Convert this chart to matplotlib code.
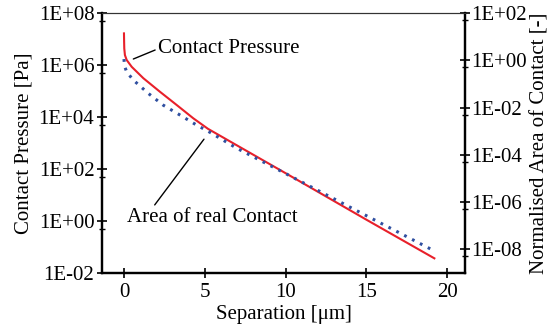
import numpy as np
import matplotlib
matplotlib.use("Agg")
import matplotlib.pyplot as plt
from matplotlib.ticker import FixedLocator, NullFormatter

plt.rcParams['font.family'] = ['Liberation Serif', 'DejaVu Serif']

# contact pressure (left axis) vs separation
sep_p = [0.0, 0.01, 0.02, 0.06, 0.17, 0.48, 1.2, 2.23, 3.26, 4.29, 5.2, 10.0, 15.0, 19.26]
pressure = [1.8e7, 7.9e6, 4.3e6, 2.4e6, 1.55e6, 8.5e5, 3.1e5, 9.3e4, 2.9e4,
            8.9e3, 3.5e3, 69, 1.12, 0.035]

# normalised real contact area (right axis) vs separation
sep_a = [0.0, 0.04, 0.17, 0.58, 1.5, 2.43, 3.47, 4.5, 5.2, 6.98, 10.17, 14.3, 19.1]
area = [1.12, 0.56, 0.32, 0.145, 0.04, 0.0126, 4.8e-3, 1.8e-3, 1e-3,
        1.9e-4, 1.4e-5, 4.7e-7, 9.3e-9]

x_ticks = [0, 5, 10, 15, 20]
left_ticks = [1e-2, 1e0, 1e2, 1e4, 1e6, 1e8]
left_labels = ['1E-02', '1E+00', '1E+02', '1E+04', '1E+06', '1E+08']
right_ticks = [1e-8, 1e-6, 1e-4, 1e-2, 1e0, 1e2]
right_labels = ['1E-08', '1E-06', '1E-04', '1E-02', '1E+00', '1E+02']

fs = 15
fig = plt.figure(figsize=(5.53, 3.28), dpi=100)
ax = fig.add_axes([0.1844, 0.1677, 0.6565, 0.7927])
ax2 = ax.twinx()

ax.plot(sep_p, pressure, color='#e8202a', lw=1.5, solid_capstyle='butt')
ax2.plot(sep_a, area, color='#2f4fa0', lw=2.2, linestyle=(0, (0.9, 2.0)))

ax.set_yscale('log')
ax2.set_yscale('log')
ax.set_xlim(-1.36, 21.1)
ax.set_ylim(1e-2, 1e8)
ax2.set_ylim(1e-9, 1e2)

ax.xaxis.set_major_locator(FixedLocator(x_ticks))
ax.set_xticklabels([str(t) for t in x_ticks], fontsize=fs)
ax.yaxis.set_major_locator(FixedLocator(left_ticks))
ax.set_yticklabels(left_labels, fontsize=fs)
ax2.yaxis.set_major_locator(FixedLocator(right_ticks))
ax2.set_yticklabels(right_labels, fontsize=fs)

# small ticks just below each major decade mark
ax.yaxis.set_minor_locator(FixedLocator([t * 0.5 for t in left_ticks]))
ax.yaxis.set_minor_formatter(NullFormatter())
ax2.yaxis.set_minor_locator(FixedLocator([t * 0.5 for t in right_ticks]))
ax2.yaxis.set_minor_formatter(NullFormatter())

for a in (ax, ax2):
    for s in a.spines.values():
        s.set_linewidth(1.6)
    a.spines['top'].set_linewidth(0.8)
    a.spines['top'].set_color('#333333')
ax.tick_params(axis='x', direction='inout', length=7, width=1.2, pad=4, top=False)
ax.tick_params(axis='y', which='major', direction='inout', length=7, width=1.2, pad=2, right=False)
ax.tick_params(axis='y', which='minor', direction='inout', length=5, width=1.0)
ax2.tick_params(axis='y', which='major', direction='inout', length=7, width=1.2, pad=1)
ax2.tick_params(axis='y', which='minor', direction='inout', length=5, width=1.0)

ax.set_xlabel('Separation [μm]', fontsize=fs)
ax.xaxis.set_label_coords(0.5, -0.125)
ax.set_ylabel('Contact Pressure [Pa]', fontsize=fs)
ax.yaxis.set_label_coords(-0.215, 0.5)
ax2.set_ylabel('Normalised Area of Contact [-]', fontsize=fs, rotation=90)
ax2.yaxis.set_label_coords(1.207, 0.5)
ax2.yaxis.label.set_va('center')
ax.yaxis.label.set_va('center')

ax.annotate('Contact Pressure', xy=(0.58, 10**6.23), xytext=(2.1, 10**6.62),
            fontsize=fs, ha='left', va='center',
            arrowprops=dict(arrowstyle='-', color='black', lw=1.0,
                            shrinkA=0, shrinkB=0, relpos=(0, 0.5)))
ax.annotate('Area of real Contact', xy=(4.95, 1.4e3), xytext=(0.19, 1.4),
            fontsize=fs, ha='left', va='center',
            arrowprops=dict(arrowstyle='-', color='black', lw=1.0,
                            shrinkA=0, shrinkB=0, relpos=(0.15, 1)))

fig.savefig('out.png', dpi=100)
